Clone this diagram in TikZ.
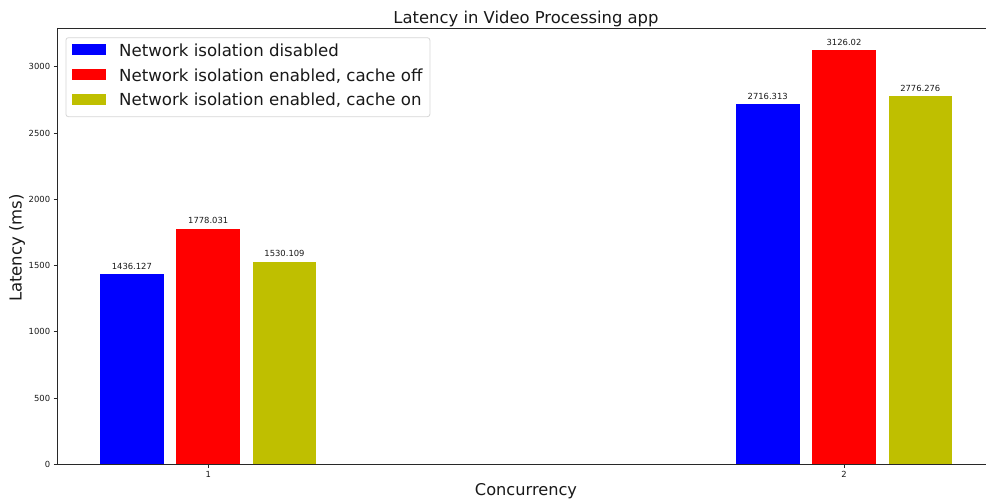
\documentclass[tikz,border=0pt]{standalone}
\usepackage{fontspec}
\setmainfont{DejaVu Sans}
\definecolor{barblue}{RGB}{0,0,255}
\definecolor{barred}{RGB}{255,0,0}
\definecolor{barolive}{RGB}{191,191,0}
\definecolor{spinegray}{RGB}{40,40,40}
\definecolor{legendedge}{RGB}{214,214,214}

\tikzset{
  spine/.style={draw=spinegray, line width=0.8pt},
  tickmark/.style={draw=spinegray, line width=0.8pt},
  ticklabel/.style={font=\fontsize{8.4}{9}\selectfont, text=black!90, inner sep=0pt},
  barlabel/.style={font=\fontsize{8.4}{9}\selectfont, text=black!90, inner sep=0pt, anchor=base},
  bigtext/.style={font=\fontsize{16.4}{19}\selectfont, text=black!90, inner sep=0pt},
  legendtext/.style={font=\fontsize{16.6}{19}\selectfont, text=black!90, inner sep=0pt, anchor=west},
  legendbox/.style={draw=legendedge, fill=white, line width=0.8pt, rounded corners=2.5pt},
  legendpatch/.style={minimum width=33.5pt, minimum height=11pt, inner sep=0pt, draw=none},
}

\begin{document}
\begin{tikzpicture}[x=1pt,y=1pt]
\useasboundingbox (0,0) rectangle (986,502);

% bars: zero line at 37.7, 0.13253 per unit of latency
\foreach \xc/\val/\col/\nm in {
    131.9/1436.127/barblue/a1, 208.2/1778.031/barred/b1, 284.5/1530.109/barolive/c1,
    767.7/2716.313/barblue/a2, 844.0/3126.02/barred/b2, 920.3/2776.276/barolive/c2}{
  \pgfmathsetmacro{\bartop}{37.7+0.13253*\val}
  \fill[\col] (\xc-31.8,37.7) rectangle (\xc+31.8,\bartop);
  \node[barlabel] (lab\nm) at (\xc,\bartop+4.7) {\val};
}

% axes frame
\coordinate (origin) at (57,37.7);
\coordinate (topleft) at (57,474);
\coordinate (bottomright) at (986,37.7);
\coordinate (topright) at (986,474);
\draw[spine] (topleft) -- (origin) -- (bottomright);
\draw[spine] (topleft) -- (topright);

% y ticks
\foreach \v in {0,500,1000,1500,2000,2500,3000}{
  \pgfmathsetmacro{\yy}{37.7+0.13253*\v}
  \coordinate (yt\v) at (57,\yy);
  \coordinate (ys\v) at (53.5,\yy);
  \draw[tickmark] (ys\v) -- (yt\v);
  \node[ticklabel, anchor=east] (yl\v) at (50.3,\yy) {\v};
}

% x ticks
\foreach \xc/\t in {208.2/1, 844.0/2}{
  \coordinate (xt\t) at (\xc,37.7);
  \coordinate (xs\t) at (\xc,34.2);
  \draw[tickmark] (xt\t) -- (xs\t);
  \node[ticklabel, anchor=north] (xl\t) at (\xc,31.2) {\t};
}

% title and axis labels
\node[bigtext] (title) at (526,482.8) {Latency in Video Processing app};
\node[font=\fontsize{16.2}{19}\selectfont, text=black!90, inner sep=0pt] (xlabel) at (526,11) {Concurrency};
\node[font=\fontsize{16.5}{19}\selectfont, text=black!90, inner sep=0pt, rotate=90] (ylabel) at (17,254) {Latency (ms)};

% legend
\node[legendbox, minimum width=364pt, minimum height=79pt, anchor=north west] (legend) at (65.5,464.7) {};
\node[legendpatch, fill=barblue] (p1) at (89,452) {};
\node[legendpatch, fill=barred] (p2) at (89,427) {};
\node[legendpatch, fill=barolive] (p3) at (89,402.7) {};
\node[legendtext] (t1) at (119,451.3) {Network isolation disabled};
\node[legendtext] (t2) at (119,426.3) {Network isolation enabled, cache off};
\node[legendtext] (t3) at (119,401.5) {Network isolation enabled, cache on};
\end{tikzpicture}
\end{document}
